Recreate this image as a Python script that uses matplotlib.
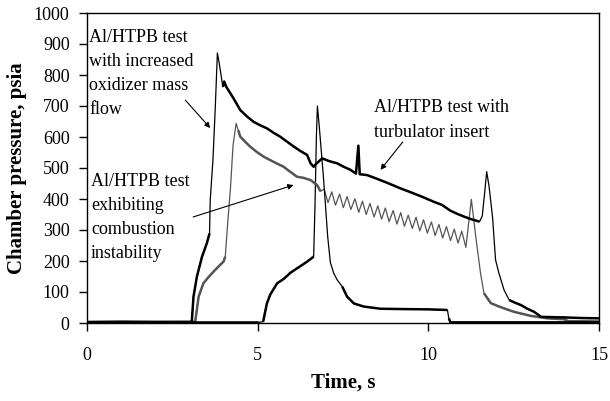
"""Chamber pressure traces for three Al/HTPB hybrid tests"""
import numpy as np
import matplotlib
matplotlib.use('Agg')
import matplotlib.pyplot as plt

plt.rcParams['font.family'] = ['Liberation Serif', 'DejaVu Serif']

# test with increased oxidizer mass flow (black, 870 psia peak)
t_oxid = [0, 1.0, 2.0, 3.05, 3.07, 3.12, 3.22, 3.37, 3.51, 3.59, 3.61, 3.69, 3.76, 3.82,
          3.87, 3.92, 3.98, 4.02, 4.08, 4.20, 4.29, 4.49, 4.69, 4.88, 5.07, 5.27, 5.46,
          5.66, 5.86, 6.06, 6.25, 6.45, 6.55, 6.64, 6.70, 6.89, 7.10, 7.33, 7.50, 7.72,
          7.88, 7.95, 7.99, 8.21, 8.50, 8.80, 9.19, 9.50, 9.80, 10.16, 10.40, 10.65,
          10.85, 11.05, 11.25, 11.50, 11.58, 11.65, 11.71, 11.78, 11.88, 11.97, 12.07,
          12.22, 12.37, 12.55, 12.71, 12.90, 13.10, 13.30, 13.60, 13.98, 14.50, 15.0]
p_oxid = [3, 4, 3, 3, 4, 85, 150, 214, 257, 289, 397, 526, 700, 871,
          840, 805, 762, 779, 762, 741, 725, 687, 666, 649, 638, 628, 614,
          601, 585, 569, 555, 542, 515, 504, 512, 531, 522, 515, 505, 494,
          482, 572, 480, 477, 465, 452, 434, 421, 408, 391, 381, 362,
          352, 343, 335, 327, 345, 420, 488, 440, 343, 203, 160,
          106, 74, 65, 58, 46, 36, 20, 19, 18, 16, 15]

# test exhibiting combustion instability (grey)
t_inst = [0, 3.17, 3.27, 3.41, 3.56, 3.71, 3.86, 4.00, 4.05, 4.12, 4.20, 4.28, 4.37,
          4.43, 4.49, 4.63, 4.78, 4.97, 5.17, 5.27, 5.50, 5.76, 5.95, 6.15, 6.35, 6.55,
          6.74, 6.84,
          6.95, 7.06, 7.17, 7.28, 7.40, 7.51, 7.62, 7.73, 7.85, 7.96, 8.07, 8.18, 8.29,
          8.41, 8.52, 8.63, 8.74, 8.85, 8.97, 9.08, 9.19, 9.30, 9.41, 9.53, 9.64, 9.75,
          9.86, 9.97, 10.09, 10.20, 10.31, 10.42, 10.53, 10.65, 10.76, 10.87, 10.98, 11.10,
          11.26, 11.39, 11.44, 11.53, 11.63, 11.83, 12.12, 12.51, 13.0, 13.49, 13.98,
          14.10, 15.0]
p_inst = [3, 4, 85, 128, 148, 166, 183, 198, 214, 320, 430, 575, 644,
          622, 601, 585, 569, 552, 537, 531, 518, 504, 488, 472, 468, 461,
          445, 425,
          432, 388, 423, 380, 416, 372, 408, 366, 401, 357, 393, 350, 386,
          342, 378, 335, 371, 327, 363, 319, 356, 312, 348, 305, 341, 297,
          333, 290, 326, 282, 318, 274, 311, 266, 303, 258, 296, 244,
          399, 278, 236, 160, 96, 64, 51, 36, 23, 15, 12,
          6, 5]

# test with turbulator insert (black, starts at ~5.2 s)
t_turb = [0, 5.0, 5.16, 5.27, 5.37, 5.57, 5.76, 5.96, 6.15, 6.45, 6.64, 6.68, 6.72,
          6.75, 6.80, 6.86, 6.92, 6.98, 7.05, 7.13, 7.23, 7.33, 7.48, 7.62, 7.82, 8.11,
          8.60, 9.19, 10.0, 10.56, 10.60, 10.65, 12.0, 15.0]
p_turb = [2, 2, 4, 63, 92, 128, 142, 162, 176, 198, 214, 380, 600,
          700, 640, 560, 480, 390, 280, 195, 160, 139, 117, 85, 63, 53,
          46, 45, 44, 42, 15, 2, 2, 2]

x_ticks = [0, 5, 10, 15]
y_ticks = list(range(0, 1001, 100))


def draw_trace(ax, t, p, color, heavy_ranges):
    """thin trace, with the noisy stretches drawn heavier"""
    t = np.asarray(t, dtype=float)
    p = np.asarray(p, dtype=float)
    ax.plot(t, p, color=color, lw=0.9, zorder=2)
    for lo, hi in heavy_ranges:
        m = (t >= lo) & (t <= hi)
        ax.plot(t[m], p[m], color=color, lw=1.8, solid_capstyle='butt', zorder=3)


fig = plt.figure(figsize=(6.10, 4.01), dpi=100)
ax = fig.add_axes([87 / 610, 78 / 401, 512 / 610, 310 / 401])

draw_trace(ax, t_inst, p_inst, '#555555', [(0.0, 4.06), (4.42, 6.85), (11.6, 15.0)])
draw_trace(ax, t_turb, p_turb, 'black', [(0.0, 5.0), (5.1, 6.65), (7.45, 10.57), (10.6, 15.0)])
draw_trace(ax, t_oxid, p_oxid, 'black', [(0.0, 3.6), (3.97, 11.52), (12.3, 15.0)])

ax.set_xlim(0, 15)
ax.set_ylim(0, 1000)
ax.set_xticks(x_ticks)
ax.set_yticks(y_ticks)
ax.tick_params(axis='both', direction='out', length=5.5, width=1, labelsize=13)
ax.tick_params(axis='x', pad=12)
ax.tick_params(axis='y', pad=7)
for s in ax.spines.values():
    s.set_linewidth(1.0)

ax.set_xlabel('Time, s', fontsize=15, fontweight='bold', labelpad=6)
ax.set_ylabel('Chamber pressure, psia', fontsize=15, fontweight='bold', labelpad=5)

# annotations
txt = dict(fontsize=13, linespacing=1.55, va='center', ha='left')
ax.text(0.06, 805, 'Al/HTPB test\nwith increased\noxidizer mass\nflow', **txt)
ax.text(0.12, 340, 'Al/HTPB test\nexhibiting\ncombustion\ninstability', **txt)
ax.text(8.42, 655, 'Al/HTPB test with\nturbulator insert', **txt)

arrow = dict(arrowstyle='-|>', color='black', lw=0.8, mutation_scale=8, shrinkA=0, shrinkB=0)
ax.annotate('', xy=(3.61, 629), xytext=(2.88, 719), arrowprops=arrow)
ax.annotate('', xy=(6.05, 445), xytext=(3.11, 342), arrowprops=arrow)
ax.annotate('', xy=(8.60, 494), xytext=(9.25, 584), arrowprops=arrow)

plt.savefig('out.png', dpi=100)
